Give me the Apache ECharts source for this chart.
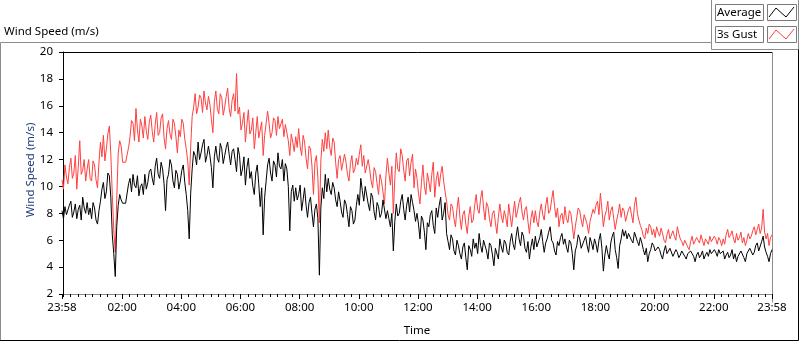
<!DOCTYPE html>
<html>
<head>
<meta charset="utf-8">
<script src="https://cdn.jsdelivr.net/npm/echarts@6/dist/echarts.min.js"></script>
<style>
  html, body { margin: 0; padding: 0; background: #fff; }
  #main { width: 800px; height: 342px; }
</style>
</head>
<body>
<div id="main"></div>
<script>
// one sample every 3 minutes, from 23:58 to 23:58 next day (minutes after 00:00)
let startMinute = -2;
let stepMinutes = 3;

// Average wind speed (m/s), one line per hour
let avgSpeed = [
  8.2, 7.6, 8.5, 7.9, 7.8, 8.6, 8.9, 7.7, 8.1, 8.7, 7.6, 8.3, 8.6, 7.5, 9.2, 8.4, 8.0, 8.8, 7.9, 8.4,
  7.6, 8.8, 8.4, 7.5, 7.2, 8.2, 8.9, 9.8, 10.3, 9.1, 9.6, 11.0, 10.8, 9.2, 6.4, 5.0, 3.3, 7.0, 8.6, 9.4,
  9.0, 8.75, 8.75, 8.75, 8.75, 10.2, 10.6, 9.6, 10.9, 10.1, 9.9, 10.8, 9.3, 10.0, 10.2, 9.4, 10.9, 9.8, 10.3, 11.1,
  11.3, 10.6, 10.1, 11.5, 12.1, 10.9, 10.6, 11.8, 11.3, 10.2, 8.2, 10.5, 10.9, 12.0, 11.6, 10.4, 9.9, 11.2, 10.9, 9.8,
  10.4, 11.2, 11.6, 10.3, 9.4, 8.2, 6.1, 9.5, 11.3, 12.6, 12.3, 11.6, 13.3, 12.0, 12.5, 13.1, 13.5, 11.8, 12.3, 13.0,
  12.3, 11.4, 9.9, 12.2, 13.0, 12.1, 11.8, 13.2, 12.8, 11.7, 12.3, 12.9, 13.3, 12.4, 11.6, 12.6, 12.8, 12.0, 11.1, 12.9,
  12.3, 10.8, 11.3, 12.2, 10.1, 11.4, 12.1, 10.6, 11.1, 10.0, 9.4, 11.0, 11.6, 10.2, 8.5, 9.9, 6.4, 9.2, 10.4, 11.6,
  12.1, 11.0, 10.4, 11.9, 11.6, 10.7, 12.5, 11.5, 11.3, 12.0, 10.4, 11.7, 11.3, 10.0, 6.7, 9.6, 10.1, 8.9, 9.9, 9.0,
  9.4, 10.1, 8.2, 9.0, 9.9, 8.6, 7.7, 8.8, 9.2, 8.0, 7.0, 8.3, 8.7, 7.6, 3.4, 8.4, 9.9, 9.1, 10.9, 9.6,
  10.6, 9.8, 9.4, 10.3, 9.9, 9.0, 8.5, 9.6, 8.9, 8.1, 7.7, 9.0, 8.7, 7.9, 7.0, 8.5, 8.2, 7.2, 7.5, 8.6,
  9.4, 8.6, 10.6, 9.7, 8.9, 10.0, 9.9, 8.7, 8.2, 9.5, 9.2, 8.1, 7.5, 8.8, 8.5, 7.7, 8.0, 9.0, 8.9, 7.6,
  8.2, 7.6, 7.0, 8.0, 5.2, 7.4, 8.7, 7.8, 8.0, 8.9, 9.4, 8.3, 7.5, 8.6, 9.2, 8.1, 9.4, 8.8, 8.2, 7.4,
  8.0, 7.2, 6.1, 7.8, 7.5, 6.6, 5.3, 7.3, 7.0, 7.9, 8.2, 7.1, 6.5, 8.4, 7.7, 8.6, 9.2, 7.5, 8.0, 8.8,
  6.5, 5.9, 5.3, 6.4, 6.1, 5.2, 4.9, 6.0, 5.6, 5.0, 4.6, 5.5, 5.8, 4.7, 3.8, 5.6, 5.3, 4.8, 6.1, 5.4,
  5.8, 5.0, 6.5, 5.6, 5.1, 6.0, 6.1, 5.2, 4.6, 5.8, 5.6, 4.9, 4.1, 5.4, 5.3, 4.6, 6.1, 5.5, 5.1, 6.0,
  5.8, 5.1, 4.9, 5.9, 6.5, 5.7, 5.3, 6.3, 7.0, 6.1, 5.6, 6.6, 6.3, 5.4, 5.1, 5.9, 4.6, 5.5, 6.1, 5.3,
  6.3, 5.5, 5.6, 6.2, 6.8, 5.9, 5.1, 5.8, 6.1, 6.6, 7.0, 6.0, 5.8, 5.2, 4.9, 5.9, 5.6, 6.2, 6.5, 5.7,
  6.1, 5.5, 5.1, 6.0, 5.8, 5.0, 3.8, 5.2, 5.6, 6.4, 6.1, 5.4, 5.3, 6.0, 6.3, 5.6, 5.1, 6.2, 5.8, 5.3,
  6.1, 5.7, 5.1, 6.0, 6.5, 5.4, 3.7, 4.9, 5.6, 5.0, 4.6, 5.8, 6.3, 6.6, 5.3, 4.7, 3.9, 5.6, 6.1, 6.8,
  6.3, 6.7, 6.1, 6.5, 6.4, 6.0, 5.8, 6.6, 6.5, 5.9, 5.6, 6.2, 5.8, 5.3, 4.9, 5.4, 4.4, 5.0, 5.3, 5.8,
  5.6, 5.2, 5.1, 5.5, 5.3, 4.9, 4.6, 5.2, 5.6, 5.0, 5.1, 5.4, 5.3, 4.8, 4.9, 5.3, 5.1, 4.7, 4.9, 5.2,
  5.1, 4.8, 4.6, 5.0, 4.9, 5.2, 5.3, 4.8, 4.4, 4.9, 5.1, 4.7, 4.9, 5.2, 4.6, 4.9, 5.1, 4.8, 5.3, 5.0,
  4.9, 5.3, 5.1, 4.8, 5.3, 5.0, 4.9, 5.2, 4.6, 4.9, 5.1, 4.7, 4.9, 5.3, 4.6, 5.0, 4.4, 4.8, 4.9, 5.2,
  5.1, 4.7, 4.4, 5.0, 4.9, 5.4, 5.3, 4.9, 5.1, 5.6, 5.8, 5.2, 5.3, 5.9, 6.3, 5.5, 5.1, 4.8, 4.4, 5.0,
  5.3
];

// 3s gust wind speed (m/s), one line per hour
let gustSpeed = [
  10.5, 9.8, 11.6, 10.7, 10.2, 11.4, 12.1, 10.6, 11.0, 12.3, 9.8, 11.5, 13.4, 10.9, 11.2, 12.0, 10.4, 11.3, 12.0, 10.6,
  10.4, 11.9, 11.6, 10.5, 9.9, 11.8, 13.3, 12.2, 13.8, 11.9, 12.8, 13.9, 14.5, 12.4, 9.4, 6.8, 5.1, 9.0, 12.5, 13.4,
  13.0, 11.8, 11.8, 11.8, 11.8, 12.9, 13.7, 14.9, 14.7, 13.4, 15.8, 14.2, 13.3, 15.0, 14.5, 13.6, 15.2, 14.1, 13.5, 14.8,
  15.3, 14.1, 13.3, 14.6, 15.5, 13.8, 14.0, 15.1, 15.4, 13.6, 12.8, 14.3, 14.9, 13.9, 13.5, 15.0, 14.7, 13.7, 12.5, 14.2,
  13.7, 15.0, 14.7, 13.5, 12.8, 11.9, 10.1, 13.0, 15.2, 15.9, 16.9, 15.4, 15.9, 16.8, 16.6, 15.5, 17.1, 16.2, 15.7, 16.7,
  16.1, 15.0, 14.0, 16.3, 17.1, 15.8, 15.4, 16.9, 16.6, 15.3, 15.9, 16.7, 17.3, 15.8, 15.2, 16.4, 16.9, 15.6, 18.4, 15.4,
  15.9, 14.2, 14.7, 15.5, 13.3, 14.6, 15.7, 13.9, 14.2, 15.1, 12.8, 14.0, 15.2, 13.6, 13.5, 14.8, 12.3, 13.8, 14.7, 15.6,
  14.7, 13.6, 14.0, 15.1, 14.9, 13.8, 15.2, 14.3, 14.2, 15.0, 13.7, 14.6, 14.5, 13.4, 12.3, 13.9, 13.3, 12.6, 13.7, 12.9,
  14.3, 13.0, 12.3, 13.8, 13.3, 12.1, 11.3, 13.0, 12.8, 11.5, 9.4, 11.8, 12.3, 10.6, 7.3, 11.9, 13.5, 12.6, 14.0, 12.8,
  14.2, 12.9, 12.3, 13.6, 13.3, 11.8, 10.6, 12.0, 12.3, 11.2, 11.1, 12.4, 11.8, 10.9, 10.4, 11.7, 12.3, 11.0, 11.3, 12.1,
  11.6, 12.4, 13.1, 11.5, 12.3, 11.0, 10.9, 12.0, 11.3, 10.4, 9.9, 11.4, 11.1, 10.2, 9.4, 10.9, 10.4, 9.6, 8.7, 10.8,
  12.1, 11.0, 10.1, 11.5, 8.0, 10.6, 12.5, 11.3, 11.1, 12.8, 12.3, 11.2, 10.4, 11.9, 12.1, 10.8, 11.8, 12.4, 9.9, 11.3,
  10.6, 9.5, 8.7, 10.3, 11.6, 10.0, 9.4, 11.0, 10.4, 9.6, 10.9, 11.8, 9.2, 10.5, 11.1, 10.0, 10.9, 11.5, 10.4, 9.6,
  8.9, 7.9, 7.5, 8.7, 8.5, 7.6, 7.0, 8.3, 9.2, 7.7, 6.8, 7.9, 8.2, 7.2, 6.5, 7.8, 8.5, 7.3, 7.5, 8.6,
  9.4, 8.3, 8.0, 9.1, 9.7, 8.4, 7.5, 8.8, 8.5, 7.6, 7.0, 8.0, 8.2, 7.3, 6.5, 7.7, 8.7, 7.8, 7.3, 8.2,
  7.7, 7.0, 8.7, 7.8, 7.0, 8.0, 8.9, 7.7, 8.2, 8.8, 9.2, 8.1, 7.5, 8.3, 8.5, 7.4, 6.5, 7.6, 8.2, 7.3,
  8.2, 7.4, 7.0, 8.1, 8.7, 7.9, 7.5, 8.6, 9.2, 8.0, 8.2, 9.0, 9.7, 8.5, 7.7, 8.4, 7.0, 7.8, 8.0, 7.2,
  8.5, 7.6, 7.3, 8.2, 8.0, 7.1, 6.1, 7.0, 7.7, 8.4, 8.2, 7.5, 7.0, 7.9, 8.0, 7.2, 6.5, 7.4, 7.5, 8.3,
  8.0, 8.6, 8.9, 7.9, 9.5, 8.3, 7.0, 7.8, 8.2, 8.9, 7.5, 8.2, 8.5, 7.6, 6.8, 7.5, 8.0, 8.7, 7.7, 8.4,
  8.2, 7.4, 7.5, 8.3, 8.5, 7.9, 7.3, 8.6, 9.2, 8.0, 7.5, 7.1, 6.8, 6.3, 6.1, 6.9, 6.5, 7.2, 7.0, 6.4,
  6.8, 6.2, 7.0, 6.6, 6.3, 6.9, 6.5, 6.0, 5.8, 6.4, 6.8, 6.1, 6.1, 6.7, 6.3, 6.0, 7.0, 6.5, 6.1, 5.9,
  5.6, 6.0, 6.1, 5.5, 5.3, 5.9, 6.3, 5.7, 5.8, 6.2, 6.1, 5.8, 6.4, 6.0, 5.6, 6.1, 6.1, 5.7, 6.3, 5.9,
  5.8, 6.3, 6.1, 5.7, 6.2, 6.0, 5.6, 6.1, 5.7, 6.4, 6.8, 6.2, 6.4, 6.7, 6.1, 5.8, 6.5, 6.0, 6.2, 6.6,
  5.8, 6.2, 5.6, 6.0, 6.5, 6.1, 6.3, 6.7, 7.0, 6.4, 6.8, 7.2, 6.5, 6.9, 8.3, 6.6, 6.1, 6.5, 5.6, 6.2,
  6.4
];

// x axis labels (minutes after 00:00) and their text
let xLabelMinutes = [-2, 120, 240, 360, 480, 600, 720, 840, 960, 1080, 1200, 1320, 1438];
let xLabelTexts = ['23:58', '02:00', '04:00', '06:00', '08:00', '10:00', '12:00',
                   '14:00', '16:00', '18:00', '20:00', '22:00', '23:58'];
let yMin = 2, yMax = 20, yStep = 2;

let minorTicks = [];
for (let m = 0; m <= 1438; m += 15) {
  minorTicks.push(m);
}

let avgData = [];
let gustData = [];
for (let i = 0; i < avgSpeed.length; i++) {
  let t = startMinute + i * stepMinutes;
  avgData.push([t, avgSpeed[i]]);
  gustData.push([t, gustSpeed[i]]);
}

let font = "'Noto Sans', 'Open Sans', sans-serif";
let gray = '#8c8c8c';

let myChart = echarts.init(document.getElementById('main'));
let option = {
  animation: false,
  backgroundColor: '#fff',
  textStyle: { fontFamily: font },
  grid: { left: 62, right: 28, top: 52, bottom: 40, containLabel: false },
  xAxis: [
    {
      type: 'value',
      min: -2,
      max: 1438,
      name: 'Time',
      nameLocation: 'middle',
      nameGap: 31,
      nameTextStyle: { color: '#000', fontSize: 11.5, fontFamily: font },
      axisLine: { show: true, lineStyle: { color: gray, width: 1 } },
      axisTick: { show: true, customValues: xLabelMinutes, length: 5, lineStyle: { color: '#000' } },
      axisLabel: {
        show: true,
        customValues: xLabelMinutes,
        margin: 8,
        color: '#000',
        fontSize: 11.5,
        fontFamily: font,
        formatter: function (v) {
          let k = xLabelMinutes.indexOf(v);
          return k >= 0 ? xLabelTexts[k] : '';
        }
      },
      splitLine: { show: false }
    },
    {
      // minor ticks every 15 minutes
      type: 'value',
      min: -2,
      max: 1438,
      position: 'bottom',
      axisLine: { show: false },
      axisTick: { show: true, customValues: minorTicks, length: 3, lineStyle: { color: '#000' } },
      axisLabel: { show: false },
      splitLine: { show: false }
    }
  ],
  yAxis: {
    type: 'value',
    min: yMin,
    max: yMax,
    interval: yStep,
    axisLine: { show: true, lineStyle: { color: '#000', width: 1 } },
    axisTick: { show: true, length: 4, lineStyle: { color: '#000' } },
    axisLabel: { margin: 9, color: '#000', fontSize: 11.5, fontFamily: font },
    splitLine: { show: false }
  },
  series: [
    {
      name: '3s Gust',
      type: 'line',
      xAxisIndex: 0,
      data: gustData,
      showSymbol: false,
      symbol: 'none',
      lineStyle: { color: '#ff4040', width: 1 },
      z: 2
    },
    {
      name: 'Average',
      type: 'line',
      xAxisIndex: 0,
      data: avgData,
      showSymbol: false,
      symbol: 'none',
      lineStyle: { color: '#000', width: 1 },
      z: 3
    }
  ],
  graphic: [
    // outer frame
    { type: 'polyline', shape: { points: [[0.5, 340], [0.5, 42.5], [711.5, 42.5], [711.5, 49.5], [798.5, 49.5]] },
      style: { stroke: gray, fill: null, lineWidth: 1 } },
    { type: 'polyline', shape: { points: [[711.5, 0], [711.5, 42.5]] },
      style: { stroke: gray, fill: null, lineWidth: 1 } },
    { type: 'polyline', shape: { points: [[798.5, 0], [798.5, 49.5]] },
      style: { stroke: gray, fill: null, lineWidth: 1 } },
    { type: 'polyline', shape: { points: [[0, 340.5], [798.5, 340.5], [798.5, 49.5]] },
      style: { stroke: '#000', fill: null, lineWidth: 1 } },
    // plot frame top and right
    { type: 'polyline', shape: { points: [[62, 52.5], [772.5, 52.5]] },
      style: { stroke: '#000', fill: null, lineWidth: 1 } },
    { type: 'polyline', shape: { points: [[772.5, 52.5], [772.5, 302.5]] },
      style: { stroke: gray, fill: null, lineWidth: 1 } },
    // chart title
    { type: 'text', x: 4, y: 32, style: { text: 'Wind Speed (m/s)', font: '11.5px ' + font, fill: '#000', verticalAlign: 'middle' } },
    // y axis name
    { type: 'text', x: 31, y: 170, rotation: Math.PI / 2,
      style: { text: 'Wind Speed (m/s)', font: '11.5px ' + font, fill: '#1f3a7a', align: 'center', verticalAlign: 'middle' } },
    // legend
    { type: 'rect', shape: { x: 715.5, y: 4.5, width: 48, height: 16 }, style: { fill: '#fff', stroke: '#7a7a7a', lineWidth: 1 } },
    { type: 'text', x: 717, y: 13, style: { text: 'Average', font: '11.5px ' + font, fill: '#000', verticalAlign: 'middle' } },
    { type: 'rect', shape: { x: 767.5, y: 4.5, width: 29, height: 16 }, style: { fill: '#fff', stroke: '#7a7a7a', lineWidth: 1 } },
    { type: 'polyline', shape: { points: [[769, 17], [776, 8], [786, 17], [794, 7]] }, style: { stroke: '#000', fill: null, lineWidth: 1 } },
    { type: 'rect', shape: { x: 715.5, y: 26.5, width: 48, height: 16 }, style: { fill: '#fff', stroke: '#7a7a7a', lineWidth: 1 } },
    { type: 'text', x: 717, y: 35, style: { text: '3s Gust', font: '11.5px ' + font, fill: '#000', verticalAlign: 'middle' } },
    { type: 'rect', shape: { x: 767.5, y: 26.5, width: 29, height: 16 }, style: { fill: '#fff', stroke: '#7a7a7a', lineWidth: 1 } },
    { type: 'polyline', shape: { points: [[769, 39], [776, 30], [786, 39], [794, 29]] }, style: { stroke: '#ff4040', fill: null, lineWidth: 1 } }
  ]
};
myChart.setOption(option);
</script>
</body>
</html>
